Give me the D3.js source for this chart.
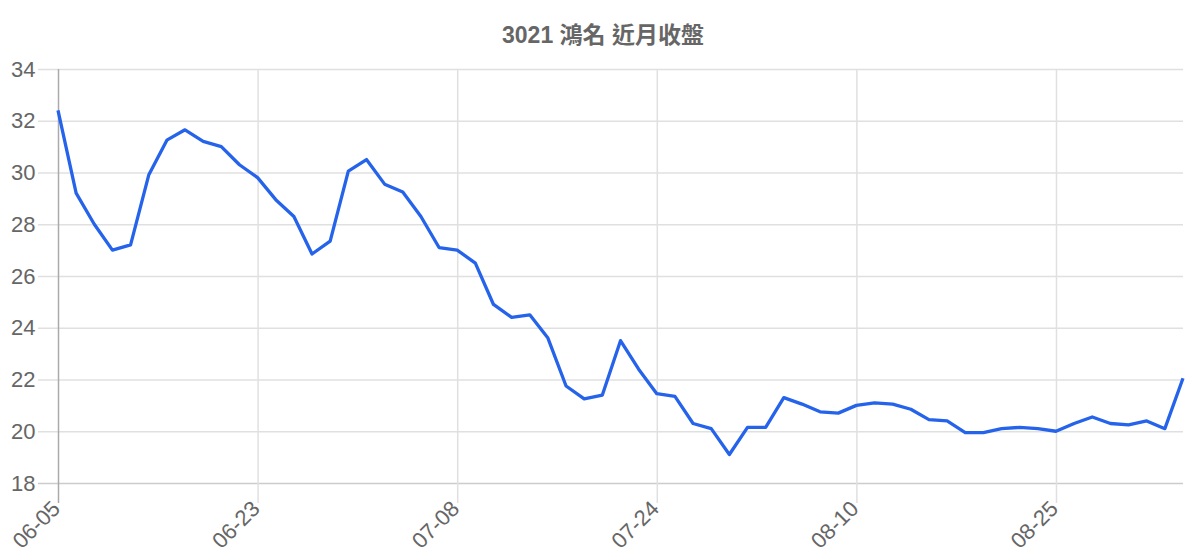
<!DOCTYPE html>
<html>
<head>
<meta charset="utf-8">
<script src="https://cdn.jsdelivr.net/npm/d3@7"></script>
<style>
  body { margin: 0; background: #fff; }
  text { font-family: "Liberation Sans", Arial, "Noto Sans CJK TC", sans-serif; fill: #666; }
</style>
</head>
<body>
<svg id="chart" width="1200" height="560"></svg>
<script>
const title = "3021 鴻名 近月收盤";

const dates = [
    "06-05", "06-08", "06-09", "06-10", "06-11", "06-12", "06-15", "06-16", "06-17", "06-18", "06-22",
    "06-23", "06-24", "06-25", "06-28", "06-29", "06-30", "07-01", "07-02", "07-05", "07-06", "07-07",
    "07-08", "07-09", "07-12", "07-13", "07-14", "07-15", "07-16", "07-19", "07-20", "07-21", "07-23",
    "07-24", "07-27", "07-28", "07-29", "07-30", "07-31", "08-03", "08-04", "08-05", "08-06", "08-07",
    "08-10", "08-11", "08-12", "08-13", "08-14", "08-17", "08-18", "08-19", "08-20", "08-21", "08-24",
    "08-25", "08-26", "08-27", "08-28", "08-31", "09-01", "09-02", "09-03"
];

const closes = [
    32.4, 29.2, 28.0, 27.0, 27.2, 29.9, 31.25, 31.65, 31.2, 31.0, 30.3,
    29.8, 28.95, 28.3, 26.85, 27.35, 30.05, 30.5, 29.55, 29.25, 28.3, 27.1,
    27.0, 26.5, 24.9, 24.4, 24.5, 23.6, 21.75, 21.25, 21.4, 23.5, 22.4,
    21.45, 21.35, 20.3, 20.1, 19.1, 20.15, 20.15, 21.3, 21.05, 20.75, 20.7,
    21.0, 21.1, 21.05, 20.85, 20.45, 20.4, 19.95, 19.95, 20.1, 20.15, 20.1,
    20.0, 20.3, 20.55, 20.3, 20.25, 20.4, 20.1, 22.05
];

const yTicks = [18, 20, 22, 24, 26, 28, 30, 32, 34];

const margin = {"top": 69, "right": 17, "bottom": 77, "left": 58};
const width = 1200 - margin.left - margin.right;
const height = 560 - margin.top - margin.bottom;

const svg = d3.select("#chart");

svg.append("text")
    .attr("x", 603)
    .attr("y", 43)
    .attr("text-anchor", "middle")
    .style("font-size", "23px")
    .style("font-weight", "bold")
    .text(title);

const g = svg.append("g")
    .attr("transform", "translate(" + margin.left + "," + margin.top + ")");

const x = d3.scalePoint()
    .domain(dates)
    .range([0, width]);

const y = d3.scaleLinear()
    .domain([18, 34])
    .range([height, 0]);

const xTicks = dates.filter((d, i) => i % 11 === 0);

// horizontal grid + y labels
const yAxis = g.append("g")
    .attr("transform", "translate(-20,0)")
    .call(d3.axisLeft(y).tickValues(yTicks).tickSize(-(width + 20)).tickPadding(2.5))
yAxis.select(".domain").remove();
yAxis.selectAll(".tick line")
    .attr("stroke", d => d === 18 ? "#ccc" : "#e0e0e0")
    .attr("stroke-width", 1.5);
yAxis.selectAll(".tick text")
    .style("font-size", "22px")
    .attr("fill", "#666");

// vertical grid + x labels
const xAxis = g.append("g")
    .call(d3.axisBottom(x).tickValues(xTicks).tickSize(height + 20));
xAxis.select(".domain").remove();
xAxis.selectAll(".tick line")
    .attr("stroke", (d, i) => i === 0 ? "#aaa" : "#e0e0e0")
    .attr("stroke-width", 1.5);
xAxis.selectAll(".tick text")
    .style("font-size", "22px")
    .attr("fill", "#666")
    .attr("text-anchor", "end")
    .attr("x", 0)
    .attr("y", 0)
    .attr("dy", 0)
    .attr("transform", "translate(3," + (height + 27) + ") rotate(-45)");

const line = d3.line()
    .x((d, i) => x(dates[i]))
    .y(d => y(d));

g.append("path")
    .datum(closes)
    .attr("fill", "none")
    .attr("stroke", "#2563eb")
    .attr("stroke-width", 3.3)
    .attr("stroke-linejoin", "round")
    .attr("d", line);
</script>
</body>
</html>
